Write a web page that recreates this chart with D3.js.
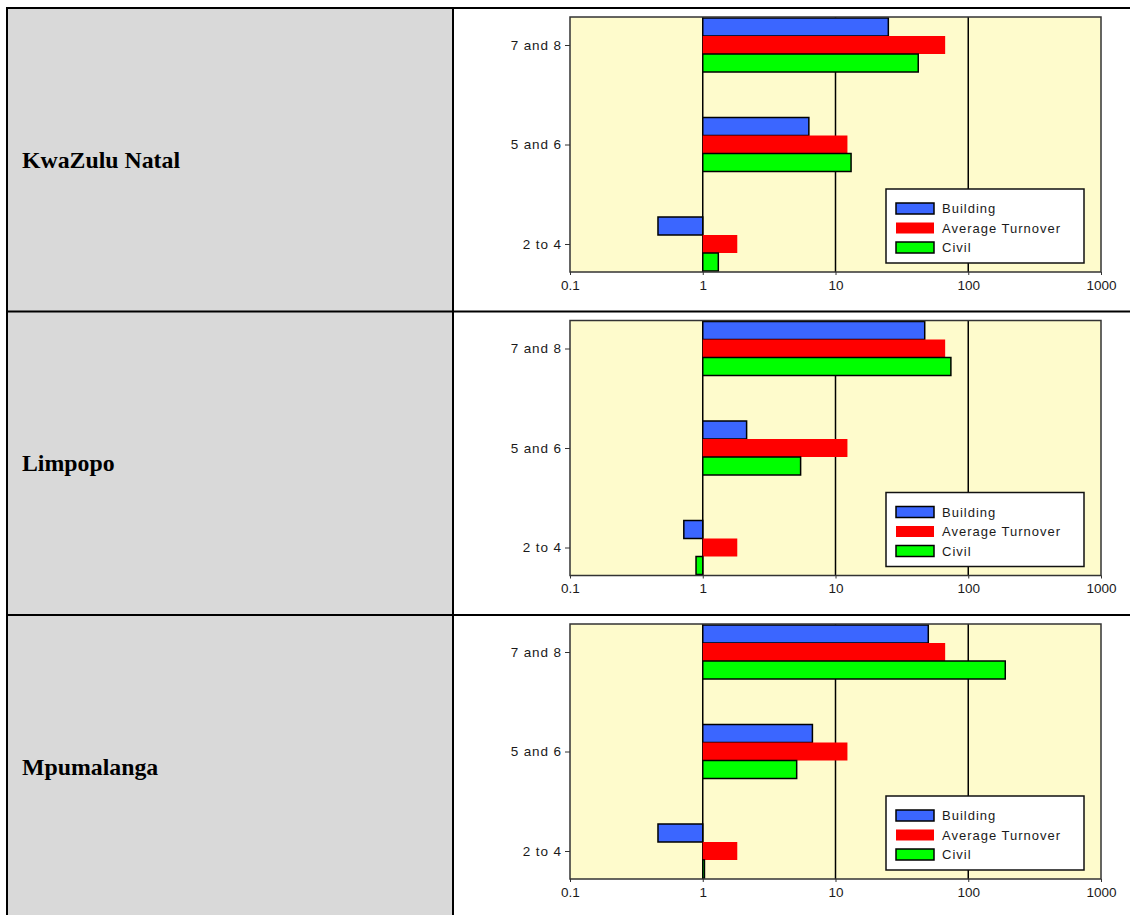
<!DOCTYPE html>
<html lang="en">
<head>
<meta charset="utf-8">
<script src="https://cdn.jsdelivr.net/npm/d3@7"></script>
<style>
  body { margin: 0; background: #fff; }
  svg text { font-family: "Liberation Sans", Arial, sans-serif; }
  .prov { font-family: "Liberation Serif", "Times New Roman", serif; font-weight: bold; font-size: 23.8px; }
</style>
</head>
<body>
<div id="chart"></div>
<script>
// data
const provinces = ["KwaZulu Natal", "Limpopo", "Mpumalanga"];
const categories = ["7 and 8", "5 and 6", "2 to 4"];
const seriesNames = ["Building", "Average Turnover", "Civil"];
const seriesColors = ["#3b66ff", "#ff0000", "#00ff00"];
const xTicks = [0.1, 1, 10, 100, 1000];

// one row per province, values in category order
const building = [[25, 6.3, 0.46], [47, 2.14, 0.72], [50, 6.7, 0.46]];
const averageTurnover = [[67, 12.3, 1.82], [67, 12.3, 1.82], [67, 12.3, 1.82]];
const civil = [[42, 13.1, 1.31], [74, 5.46, 0.89], [190, 5.1, 1.03]];

const W = 1130, H = 915;
const rowTop = 8, rowH = 303.5;
const colX = 7, splitX = 453;

const svg = d3.select("#chart").append("svg").attr("width", W).attr("height", H);

// left column grey cells
svg.append("rect").attr("x", colX).attr("y", rowTop).attr("width", splitX - colX).attr("height", H - rowTop)
  .attr("fill", "#d9d9d9");

const x = d3.scaleLog().domain([0.1, 1000]).range([570, 1101]);
const inner = d3.scaleBand().domain(seriesNames).range([-27, 27]);

provinces.forEach((name, r) => {
  const top = rowTop + r * rowH;
  svg.append("text").attr("class", "prov").attr("x", 22).attr("y", top + rowH / 2 + 8).text(name);

  const pTop = top + 9, pBot = top + 264;
  const y = d3.scalePoint().domain(categories).range([pTop + 28, pBot - 28]);
  const g = svg.append("g");

  g.append("rect").attr("x", x.range()[0]).attr("y", pTop).attr("width", x.range()[1] - x.range()[0])
    .attr("height", pBot - pTop).attr("fill", "#fefbcc");

  // vertical grid at 1, 10, 100
  g.selectAll("line.grid").data(xTicks.slice(1, 4)).join("line").attr("class", "grid")
    .attr("x1", d => x(d)).attr("x2", d => x(d)).attr("y1", pTop).attr("y2", pBot)
    .attr("stroke", "#000").attr("stroke-width", 1.5);

  const vals = [building[r], averageTurnover[r], civil[r]];
  seriesNames.forEach((s, si) => {
    g.selectAll("rect.s" + si).data(categories).join("rect").attr("class", "s" + si)
      .attr("x", (c, i) => Math.min(x(1), x(vals[si][i])))
      .attr("width", (c, i) => Math.abs(x(vals[si][i]) - x(1)))
      .attr("y", c => y(c) + inner(s))
      .attr("height", inner.bandwidth())
      .attr("fill", seriesColors[si])
      .attr("stroke", si === 1 ? "none" : "#000")
      .attr("stroke-width", 1.5);
  });

  // plot frame
  g.append("rect").attr("x", x.range()[0]).attr("y", pTop).attr("width", x.range()[1] - x.range()[0])
    .attr("height", pBot - pTop).attr("fill", "none").attr("stroke", "#333").attr("stroke-width", 1.5);

  const yAxis = g.append("g").attr("transform", `translate(${x.range()[0]},0)`)
    .call(d3.axisLeft(y).tickSize(5).tickPadding(3));
  const xAxis = g.append("g").attr("transform", `translate(0,${pBot})`)
    .call(d3.axisBottom(x).tickValues(xTicks).tickFormat(d3.format("~g")).tickSize(3).tickPadding(5));
  [yAxis, xAxis].forEach(a => {
    a.select(".domain").remove();
    a.selectAll("line").attr("stroke", "#333");
    a.selectAll("text").attr("font-size", 13.5).attr("fill", "#1a1a1a").attr("letter-spacing", 0.9)
      .attr("font-family", "Liberation Sans, Arial, sans-serif");
  });
  xAxis.selectAll("text").attr("letter-spacing", 0);

  // legend
  const lg = g.append("g").attr("transform", `translate(886,${pBot - 83})`);
  lg.append("rect").attr("width", 198).attr("height", 74).attr("fill", "#fff")
    .attr("stroke", "#111").attr("stroke-width", 1.5);
  seriesNames.forEach((s, si) => {
    lg.append("rect").attr("x", 10).attr("y", 14 + si * 19.5).attr("width", 38).attr("height", 11)
      .attr("fill", seriesColors[si]).attr("stroke", si === 1 ? "none" : "#000").attr("stroke-width", 1.5);
    lg.append("text").attr("x", 56).attr("y", 24 + si * 19.5).attr("font-size", 13)
      .attr("letter-spacing", 1).attr("fill", "#1a1a1a").text(s);
  });
});

// table borders
const bw = 2;
d3.range(4).forEach(i => {
  svg.append("line").attr("x1", colX - 1).attr("x2", W).attr("y1", rowTop + i * rowH).attr("y2", rowTop + i * rowH)
    .attr("stroke", "#000").attr("stroke-width", bw);
});
[colX, splitX].forEach(xx => {
  svg.append("line").attr("x1", xx).attr("x2", xx).attr("y1", rowTop - 1).attr("y2", H)
    .attr("stroke", "#000").attr("stroke-width", bw);
});
</script>
</body>
</html>
